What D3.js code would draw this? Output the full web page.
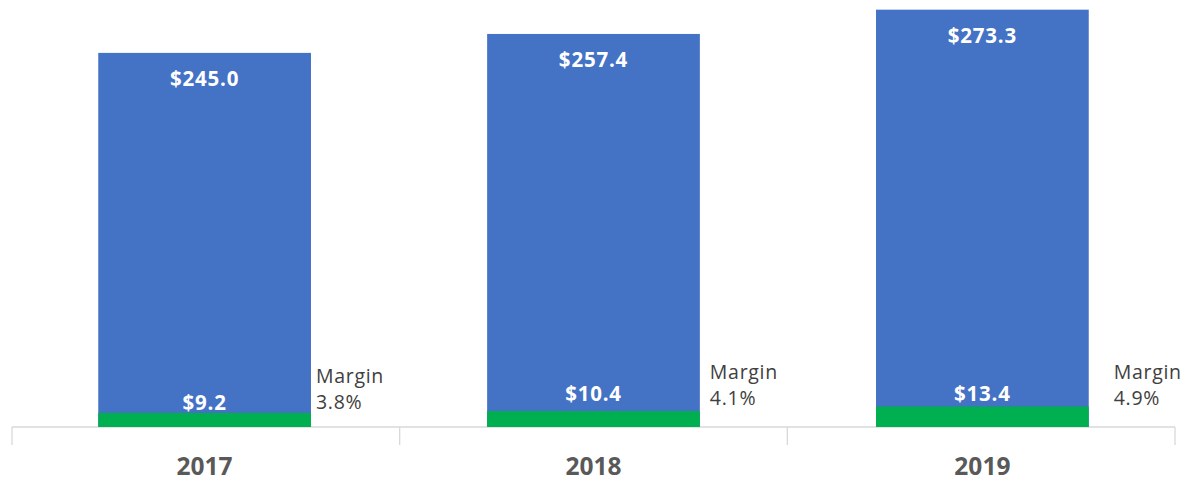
<!DOCTYPE html>
<html><head><meta charset="utf-8">
<script src="https://cdn.jsdelivr.net/npm/d3@7"></script>
<style>
html,body{margin:0;padding:0;background:#fff;}
svg{display:block;}
</style></head>
<body>
<svg id="chart" width="1193" height="481"></svg>
<script>
// Data
const years = ["2017", "2018", "2019"];
const revenue = [245.0, 257.4, 273.3];
const profit = [9.2, 10.4, 13.4];
const margins = ["3.8%", "4.1%", "4.9%"];

// Layout/style (not data)
const profitLabelLift = [3, 10, 6];
const marginLabelDx = [5, 10, 25];
const marginLabelDy = [-44, -48, -48];

const svg = d3.select("#chart");
const baseY = 427;
const x = d3.scaleBand().domain(years).range([12, 1175]).paddingInner(0.453).paddingOuter(0.2218);
const y = d3.scaleLinear().domain([0, 279]).range([baseY, baseY - 279 * 1.527]);

const font = "'Open Sans', sans-serif";

// Axis line and ticks
svg.append("line").attr("x1", 12).attr("x2", 1175).attr("y1", baseY).attr("y2", baseY)
  .attr("stroke", "#d9d9d9").attr("stroke-width", 1.3);
const bounds = d3.range(years.length + 1).map(i => 12 + i * (1175 - 12) / years.length);
svg.selectAll("line.tick").data(bounds).join("line").attr("class", "tick")
  .attr("x1", d => d).attr("x2", d => d).attr("y1", baseY).attr("y2", baseY + 18)
  .attr("stroke", "#d9d9d9").attr("stroke-width", 1.3);

// Revenue bars
svg.selectAll("rect.rev").data(revenue).join("rect").attr("class", "rev")
  .attr("x", (d, i) => x(years[i])).attr("width", x.bandwidth())
  .attr("y", d => y(d)).attr("height", d => baseY - y(d))
  .attr("fill", "#4472C4");

// Profit bars
svg.selectAll("rect.pro").data(profit).join("rect").attr("class", "pro")
  .attr("x", (d, i) => x(years[i])).attr("width", x.bandwidth())
  .attr("y", d => y(d)).attr("height", d => baseY - y(d))
  .attr("fill", "#00B050");

// Revenue labels
svg.selectAll("text.rev").data(revenue).join("text").attr("class", "rev")
  .attr("x", (d, i) => x(years[i]) + x.bandwidth() / 2)
  .attr("y", d => y(d) + 33)
  .attr("text-anchor", "middle").attr("fill", "#fff")
  .attr("font-family", font).attr("font-weight", 700).attr("font-size", 20.5)
  .attr("letter-spacing", 0.8)
  .text(d => "$" + d.toFixed(1));

// Profit labels
svg.selectAll("text.pro").data(profit).join("text").attr("class", "pro")
  .attr("x", (d, i) => x(years[i]) + x.bandwidth() / 2)
  .attr("y", (d, i) => y(d) - profitLabelLift[i])
  .attr("text-anchor", "middle").attr("fill", "#fff")
  .attr("font-family", font).attr("font-weight", 700).attr("font-size", 20.5)
  .attr("letter-spacing", 0.8)
  .text(d => "$" + d.toFixed(1));

// Margin labels
const mg = svg.selectAll("text.margin").data(margins).join("text").attr("class", "margin")
  .attr("font-family", font).attr("font-size", 19.5).attr("letter-spacing", 0.7).attr("fill", "#404040");
mg.append("tspan")
  .attr("x", (d, i) => x(years[i]) + x.bandwidth() + marginLabelDx[i])
  .attr("y", (d, i) => baseY + marginLabelDy[i])
  .text("Margin");
mg.append("tspan")
  .attr("x", (d, i) => x(years[i]) + x.bandwidth() + marginLabelDx[i])
  .attr("y", (d, i) => baseY + marginLabelDy[i] + 26)
  .text(d => d);

// Year labels
svg.selectAll("text.year").data(years).join("text").attr("class", "year")
  .attr("x", d => x(d) + x.bandwidth() / 2).attr("y", 475)
  .attr("text-anchor", "middle").attr("fill", "#595959")
  .attr("font-family", font).attr("font-weight", 700).attr("font-size", 24.5)
  .text(d => d);
</script>
</body></html>
